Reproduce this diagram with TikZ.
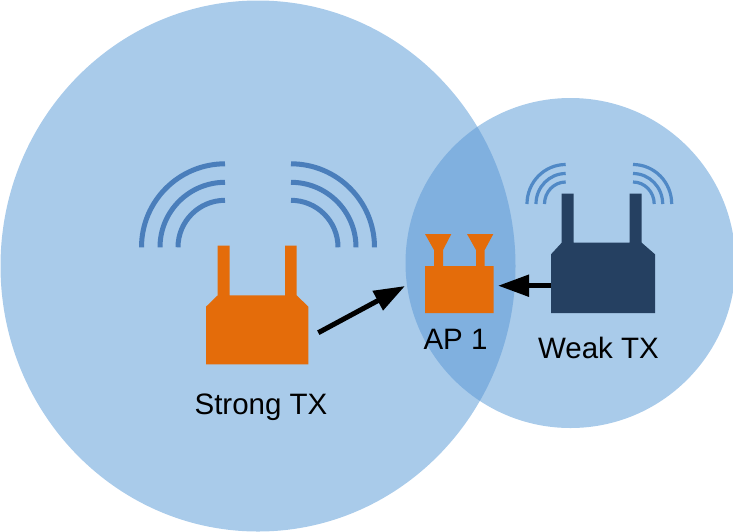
\documentclass[tikz,border=0pt]{standalone}
\usepackage{fontspec}
\setmainfont{Liberation Sans}
\usetikzlibrary{arrows.meta}
\definecolor{zonecol}{HTML}{A9CBEA}
\definecolor{overlapcol}{HTML}{80B0DF}
\definecolor{orangecol}{HTML}{E46C0A}
\definecolor{navycol}{HTML}{254061}
\definecolor{wavecol}{HTML}{4A7EBB}
\definecolor{wavelight}{HTML}{5089C6}
\tikzset{
  zone/.style={fill=zonecol,draw=none},
  orangeshape/.style={fill=orangecol,draw=none},
  navyshape/.style={fill=navycol,draw=none},
  bigwave/.style={draw=wavecol,line width=5pt,fill=none},
  smallwave/.style={draw=wavelight,line width=3.2pt,fill=none},
  label/.style={font=\fontsize{29.5}{34}\selectfont,text=black,inner sep=0pt},
  signal/.style={draw=black,line width=5pt,-{Triangle[length=31pt,width=21pt]}}
}
\begin{document}
\begin{tikzpicture}[x=1pt,y=-1pt]
\useasboundingbox (0,0) rectangle (733,531);
\begin{scope}
\clip (0,0) rectangle (733,531);
\fill[zone] (258,266) ellipse [x radius=257.5,y radius=265.5];
\fill[zone] (570.5,263) circle [radius=165];
\begin{scope}
\clip (258,266) ellipse [x radius=257.5,y radius=265.5];
\fill[overlapcol] (570.5,263) circle [radius=165];
\end{scope}
\end{scope}
% Strong TX waves
\foreach \r in {83.5,65,47}{
  \draw[bigwave] (225,247.3-\r) arc [start angle=90,end angle=180,x radius=\r,y radius=-\r];
  \draw[bigwave] (291,247.3-\r) arc [start angle=90,end angle=0,x radius=\r,y radius=-\r];
}
% Weak TX waves
\foreach \r in {39.5,30.5,22}{
  \draw[smallwave] (565.7,204-\r) arc [start angle=90,end angle=180,x radius=\r-0.8,y radius=-\r];
  \draw[smallwave] (633,204-\r) arc [start angle=90,end angle=0,x radius=\r-0.8,y radius=-\r];
}
% Strong router
\fill[orangeshape] (217.7,245.7) -- (229.7,245.7) -- (229.7,295.3) -- (285,295.3) -- (285,245.7) -- (296.7,245.7) -- (296.7,295.3) -- (308.3,306.7) -- (308.3,364.3) -- (206,364.3) -- (206,306.7) -- (217.7,295.3) -- cycle;
% Weak router
\fill[navyshape] (561.7,193.7) -- (573.7,193.7) -- (573.7,242.7) -- (629.7,242.7) -- (629.7,193.7) -- (641.7,193.7) -- (641.7,242.7) -- (655,254.3) -- (655,313) -- (551,313) -- (551,254.3) -- (561.7,242.7) -- cycle;
% AP
\fill[orangeshape] (425,234) -- (451.3,234) -- (443,250) -- (443,266) -- (476,266) -- (476,250) -- (467,234) -- (493.3,234) -- (484.7,250) -- (484.7,266) -- (493.7,266) -- (493.7,313) -- (425,313) -- (425,266) -- (434,266) -- (434,250) -- cycle;
% connector ends
\coordinate (strongport) at (318.3,332.7);
\coordinate (apleft) at (405,286);
\coordinate (weakport) at (551,285.7);
\coordinate (apright) at (498,285.7);
\draw[signal] (strongport) -- (apleft);
\draw[signal] (weakport) -- (apright);
% labels
\node[label] (strongtx) at (261,407.5) {Strong TX};
\node[label] (ap) at (455.5,339.5) {AP 1};
\node[label] (weaktx) at (598.5,348) {Weak TX};
\end{tikzpicture}
\end{document}
